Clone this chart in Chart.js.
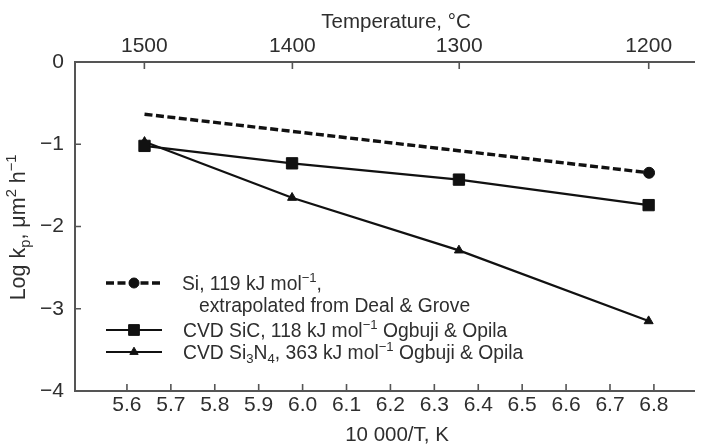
<!DOCTYPE html>
<html>
<head>
<meta charset="utf-8">
<title>Parabolic rate constants</title>
<script src="https://cdn.jsdelivr.net/npm/chart.js@4.4.1/dist/chart.umd.min.js"></script>
<style>
  html, body { margin: 0; padding: 0; background: #fff; }
  canvas { display: block; }
</style>
</head>
<body>
<canvas id="chart" width="703" height="448"></canvas>
<script>
// values: x = 10 000/T (K), y = log kp
const xSi = [5.64, 6.789];
const ySi = [-0.635, -1.347];
const xSiC = [5.64, 5.976, 6.356, 6.788];
const ySiC = [-1.02, -1.232, -1.43, -1.74];
const xSiN = [5.64, 5.976, 6.356, 6.788];
const ySiN = [-0.97, -1.65, -2.29, -3.15];

// tick labels
const xTicks = [5.6, 5.7, 5.8, 5.9, 6.0, 6.1, 6.2, 6.3, 6.4, 6.5, 6.6, 6.7, 6.8];
const tempTicks = [1500, 1400, 1300, 1200];
const yTicks = [0, -1, -2, -3, -4];

// legend text, pieces tagged 'sup' / 'sub'
const legendSi = [['Si, 119 kJ mol'], ['\u22121', 'sup'], [',']];
const legendSi2 = [['extrapolated from Deal & Grove']];
const legendSiC = [['CVD SiC, 118 kJ mol'], ['\u22121', 'sup'], [' Ogbuji & Opila']];
const legendSiN = [['CVD Si'], ['3', 'sub'], ['N'], ['4', 'sub'], [', 363 kJ mol'], ['\u22121', 'sup'], [' Ogbuji & Opila']];
const yTitle = [['Log k'], ['p', 'sub'], [', \u03bcm'], ['2', 'sup'], [' h'], ['\u22121', 'sup']];

const FONT = '"Liberation Sans", Arial, Helvetica, sans-serif';
const TEXT = '#2e2e2e';
const AXIS = '#555';
const INK = '#111';

const toPoints = (xs, ys) => xs.map((x, i) => ({ x: x, y: ys[i] }));

function richWidth(ctx, segs, size) {
  let w = 0;
  segs.forEach(s => {
    ctx.font = (s[1] ? size * 0.68 : size) + 'px ' + FONT;
    w += ctx.measureText(s[0]).width;
  });
  return w;
}

function drawRich(ctx, segs, x, y, size) {
  let cx = x;
  ctx.textAlign = 'left';
  ctx.textBaseline = 'alphabetic';
  segs.forEach(s => {
    ctx.font = (s[1] ? size * 0.68 : size) + 'px ' + FONT;
    const dy = s[1] === 'sup' ? -size * 0.4 : s[1] === 'sub' ? size * 0.22 : 0;
    ctx.fillText(s[0], cx, y + dy);
    cx += ctx.measureText(s[0]).width;
  });
}

const decor = {
  id: 'decor',
  beforeDatasetsDraw(chart) {
    // inward tick marks
    const { ctx, chartArea: a, scales } = chart;
    ctx.save();
    ctx.strokeStyle = AXIS;
    ctx.lineWidth = 1.6;
    ctx.beginPath();
    scales.x.ticks.forEach(t => {
      const px = scales.x.getPixelForValue(t.value);
      ctx.moveTo(px, a.bottom); ctx.lineTo(px, a.bottom - 7);
    });
    scales.x2.ticks.forEach(t => {
      const px = scales.x2.getPixelForValue(t.value);
      ctx.moveTo(px, a.top); ctx.lineTo(px, a.top + 7);
    });
    scales.y.ticks.forEach(t => {
      const py = scales.y.getPixelForValue(t.value);
      ctx.moveTo(a.left, py); ctx.lineTo(a.left + 6, py);
    });
    ctx.stroke();
    ctx.restore();
  },
  afterDraw(chart) {
    const { ctx, chartArea: a } = chart;
    ctx.save();
    ctx.fillStyle = TEXT;

    // axis titles
    ctx.font = '20.5px ' + FONT;
    ctx.textAlign = 'center';
    ctx.textBaseline = 'alphabetic';
    ctx.fillText('Temperature, \u00b0C', a.left + 321, 28);
    ctx.fillText('10 000/T, K', a.left + 322, 441);

    ctx.save();
    ctx.translate(25, (a.top + a.bottom) / 2 + 1);
    ctx.rotate(-Math.PI / 2);
    drawRich(ctx, yTitle, -richWidth(ctx, yTitle, 21.5) / 2, 0, 21.5);
    ctx.restore();

    // legend
    const x0 = a.left + 31, x1 = a.left + 87, xm = (x0 + x1) / 2;
    const rows = [
      { y: 283, dash: [8, 3.5], lw: 3.4, style: 'circle', r: 5 },
      { y: 330, dash: [], lw: 2.2, style: 'rect', r: 7.6 },
      { y: 352, dash: [], lw: 2.2, style: 'triangle', r: 4.8 }
    ];
    rows.forEach(row => {
      ctx.strokeStyle = INK;
      ctx.fillStyle = INK;
      ctx.lineWidth = row.lw;
      ctx.setLineDash(row.dash);
      ctx.beginPath();
      ctx.moveTo(x0, row.y); ctx.lineTo(x1, row.y);
      ctx.stroke();
      ctx.setLineDash([]);
      ctx.lineWidth = 1;
      Chart.helpers.drawPoint(ctx, { pointStyle: row.style, radius: row.r, rotation: 0, borderWidth: 1 }, xm, row.y);
    });
    ctx.fillStyle = TEXT;
    drawRich(ctx, legendSi, a.left + 107, 289.5, 19.3);
    drawRich(ctx, legendSi2, a.left + 124, 312, 19.3);
    drawRich(ctx, legendSiC, a.left + 108, 336.5, 19.3);
    drawRich(ctx, legendSiN, a.left + 108, 358.5, 19.3);
    ctx.restore();
  }
};

const xMin = 5.4817, xMax = 6.8913;

const axisBorder = { display: true, color: AXIS, width: 2 };
const tickFont = { family: FONT, size: 21 };

new Chart(document.getElementById('chart'), {
  type: 'scatter',
  data: {
    datasets: [
      {
        label: 'Si',
        data: toPoints(xSi, ySi),
        showLine: true,
        borderColor: INK,
        backgroundColor: INK,
        borderWidth: 3.4,
        borderDash: [8, 3.5],
        pointStyle: 'circle',
        pointRadius: [0, 5.5],
        pointBackgroundColor: INK,
        pointBorderColor: INK,
        pointBorderWidth: 1
      },
      {
        label: 'CVD SiC',
        data: toPoints(xSiC, ySiC),
        showLine: true,
        borderColor: INK,
        backgroundColor: INK,
        borderWidth: 2.2,
        pointStyle: 'rect',
        pointRadius: 8,
        pointBackgroundColor: INK,
        pointBorderColor: INK,
        pointBorderWidth: 1
      },
      {
        label: 'CVD Si3N4',
        data: toPoints(xSiN, ySiN),
        showLine: true,
        borderColor: INK,
        backgroundColor: INK,
        borderWidth: 2.2,
        pointStyle: 'triangle',
        pointRadius: 5.2,
        pointBackgroundColor: INK,
        pointBorderColor: INK,
        pointBorderWidth: 1
      }
    ]
  },
  options: {
    responsive: false,
    animation: false,
    events: [],
    layout: { padding: 0 },
    plugins: {
      legend: { display: false },
      tooltip: { enabled: false }
    },
    scales: {
      x: {
        type: 'linear',
        position: 'bottom',
        min: xMin,
        max: xMax,
        border: axisBorder,
        grid: { drawOnChartArea: false, drawTicks: false },
        afterBuildTicks: s => { s.ticks = xTicks.map(v => ({ value: v })); },
        afterFit: s => { s.height = 57; },
        ticks: {
          autoSkip: false,
          maxRotation: 0,
          padding: 2,
          color: TEXT,
          font: tickFont,
          callback: v => Number(v).toFixed(1)
        }
      },
      x2: {
        type: 'linear',
        position: 'top',
        min: xMin,
        max: xMax,
        border: axisBorder,
        grid: { drawOnChartArea: false, drawTicks: false },
        afterBuildTicks: s => { s.ticks = tempTicks.map(c => ({ value: 10000 / (c + 273.15) })); },
        afterFit: s => { s.height = 62; },
        ticks: {
          autoSkip: false,
          maxRotation: 0,
          padding: 3,
          color: TEXT,
          font: tickFont,
          callback: v => String(Math.round(10000 / v - 273.15))
        }
      },
      y: {
        type: 'linear',
        min: -4,
        max: 0,
        border: axisBorder,
        grid: { drawOnChartArea: false, drawTicks: false },
        afterBuildTicks: s => { s.ticks = yTicks.map(v => ({ value: v })); },
        afterFit: s => { s.width = 75; },
        ticks: {
          autoSkip: false,
          padding: 11,
          color: TEXT,
          font: tickFont,
          callback: v => (v < 0 ? '\u2212' + (-v) : String(v))
        }
      }
    }
  },
  plugins: [decor]
});
</script>
</body>
</html>
